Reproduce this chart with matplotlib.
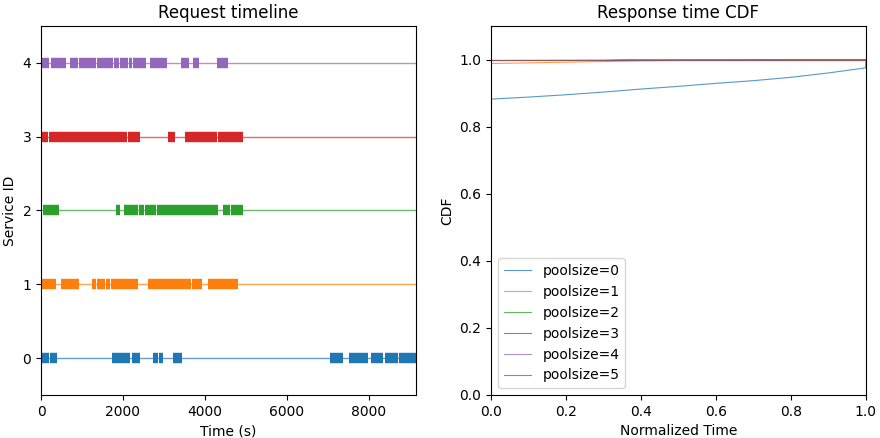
import numpy as np
import matplotlib
matplotlib.use("Agg")
import matplotlib.pyplot as plt

# ── request intervals per service (start, end) in seconds ──────────────────────
service_ids = [0, 1, 2, 3, 4]

svc0 = [(16, 195), (220, 382), (1724, 2171), (2211, 2415), (2724, 2862),
        (2878, 2984), (3211, 3439), (7049, 7366), (7520, 7984), (8049, 8350),
        (8390, 8715), (8740, 9146)]
svc1 = [(8, 374), (480, 919), (1244, 1350), (1374, 1553), (1593, 1675),
        (1699, 1943), (1959, 2366), (2610, 2732), (2740, 3341), (3349, 3667),
        (3675, 3927), (4073, 4805)]
svc2 = [(49, 431), (1837, 1919), (2024, 2366), (2382, 2512), (2545, 2813),
        (2837, 3748), (3764, 4317), (4439, 4602), (4642, 4927)]
svc3 = [(8, 171), (195, 2106), (2122, 2407), (3098, 3260), (3504, 4293),
        (4317, 4846), (4862, 4927)]
svc4 = [(8, 89), (106, 187), (236, 618), (699, 902), (919, 1350),
        (1374, 1756), (1780, 1911), (1927, 2122), (2138, 2220), (2244, 2569),
        (2650, 3081), (3407, 3602), (3707, 3846), (4301, 4561)]
intervals = [svc0, svc1, svc2, svc3, svc4]

# ── response time CDF per pool size ────────────────────────────────────────────
pool_sizes = [0, 1, 2, 3, 4, 5]
cdf_x = {
    0: [0.0, 0.1, 0.2, 0.3, 0.4, 0.5, 0.6, 0.7, 0.8, 0.9, 0.999, 1.0],
    1: [0.0, 0.2, 0.4, 0.6, 0.8, 1.0],
    2: [0.0, 0.3, 0.35, 1.0],
    3: [0.0, 1.0],
    4: [0.0, 1.0],
    5: [0.0, 1.0],
}
cdf_y = {
    0: [0.882, 0.888, 0.895, 0.903, 0.912, 0.920, 0.929, 0.937, 0.947, 0.960, 0.975, 1.0],
    1: [0.988, 0.992, 0.996, 0.999, 1.0, 1.0],
    2: [0.997, 0.998, 1.0, 1.0],
    3: [1.0, 1.0],
    4: [1.0, 1.0],
    5: [1.0, 1.0],
}

colors = plt.rcParams["axes.prop_cycle"].by_key()["color"]

fig = plt.figure(figsize=(8.8, 4.38), dpi=100)
ax1 = fig.add_axes([0.0466, 0.0982, 0.426, 0.8425])
ax2 = fig.add_axes([0.558, 0.0982, 0.426, 0.8425])

# left: request timeline
t_max = max(e for iv in intervals for _, e in iv)
for sid, iv in zip(service_ids, intervals):
    c = colors[sid]
    ax1.axhline(sid, color=c, lw=1, alpha=0.7)
    ax1.hlines([sid] * len(iv), [s for s, _ in iv], [e for _, e in iv],
               color=c, lw=7.5)
ax1.set_xlim(0, t_max)
ax1.set_ylim(-0.5, 4.5)
ax1.set_yticks(service_ids)
ax1.set_xticks([0, 2000, 4000, 6000, 8000])
ax1.set_xlabel("Time (s)")
ax1.set_ylabel("Service ID")
ax1.set_title("Request timeline")

# right: CDF
for p in pool_sizes:
    ax2.plot(cdf_x[p], cdf_y[p], color=colors[p], lw=0.8, alpha=0.75,
             label=f"poolsize={p}")
ax2.set_xlim(0, 1)
ax2.set_ylim(0, 1.1)
ax2.set_yticks([0, 0.2, 0.4, 0.6, 0.8, 1.0])
ax2.set_xlabel("Normalized Time")
ax2.set_ylabel("CDF")
ax2.set_title("Response time CDF")
ax2.legend(loc="lower left")

fig.savefig("out.png", dpi=100)
